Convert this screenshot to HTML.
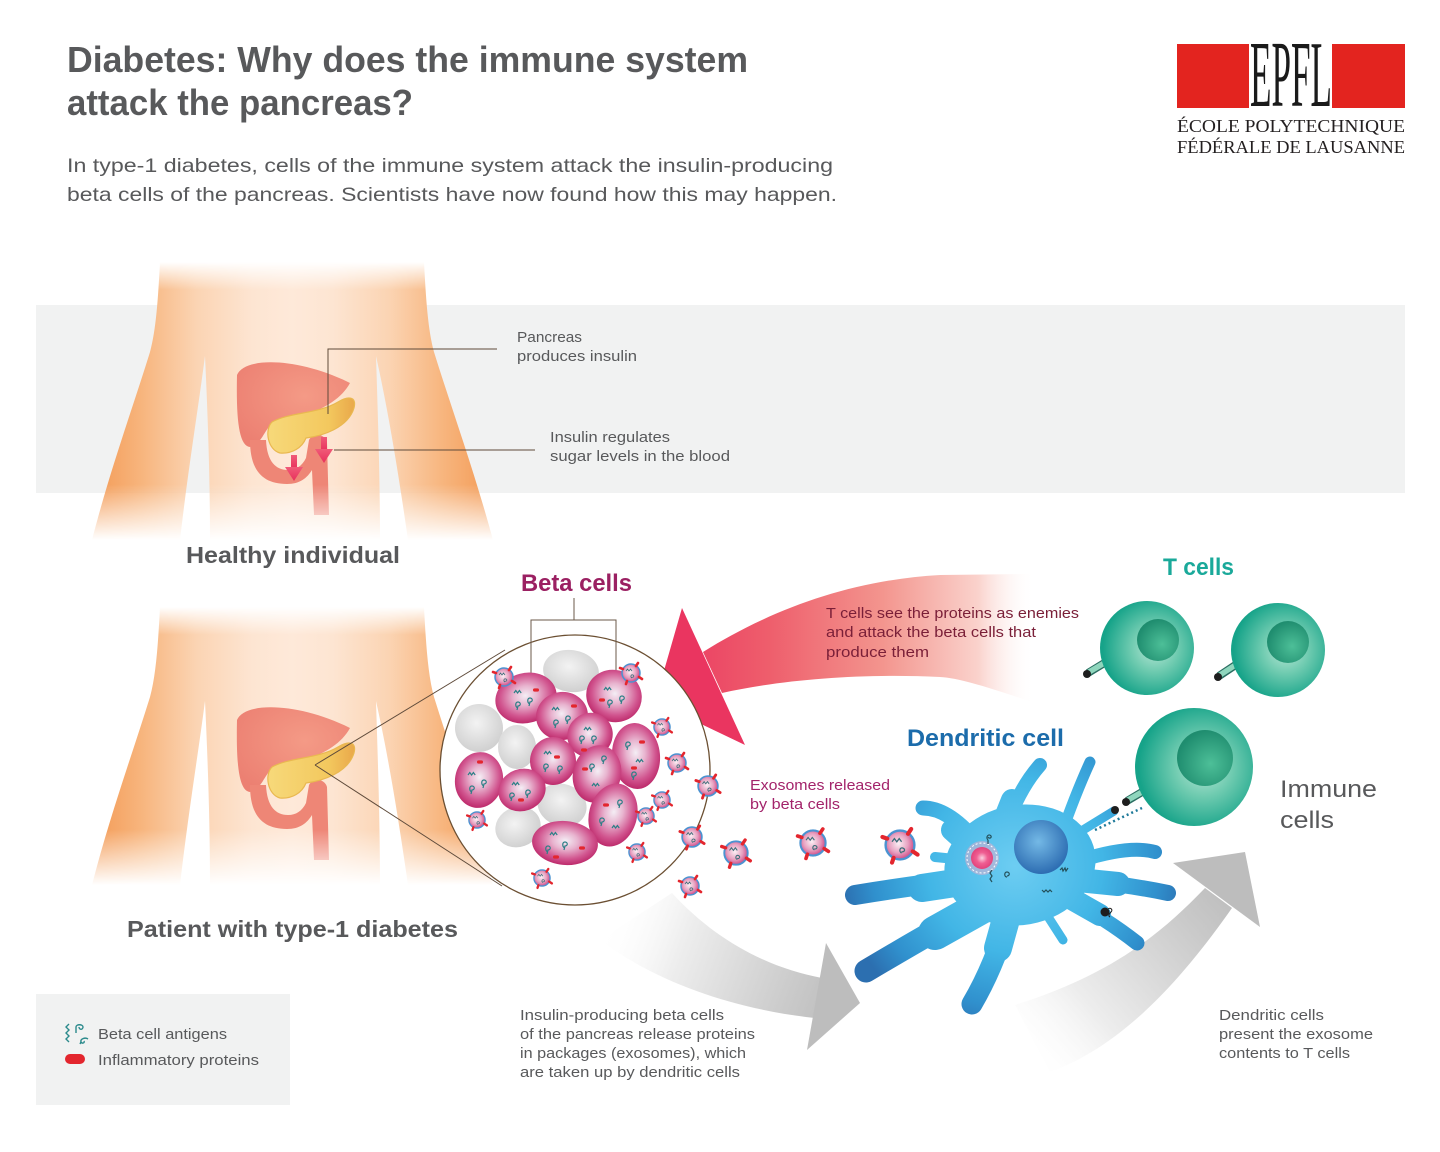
<!DOCTYPE html>
<html>
<head>
<meta charset="utf-8">
<style>
html,body{margin:0;padding:0;background:#fff;}
svg{display:block;}
</style>
</head>
<body>
<svg width="1440" height="1152" viewBox="0 0 1440 1152" xmlns="http://www.w3.org/2000/svg" xmlns:xlink="http://www.w3.org/1999/xlink" font-family="'Liberation Sans', sans-serif">
<defs>
  <linearGradient id="gSkin" gradientUnits="userSpaceOnUse" x1="92" y1="0" x2="493" y2="0">
    <stop offset="0" stop-color="#f39a55"/>
    <stop offset="0.12" stop-color="#f7b47c"/>
    <stop offset="0.26" stop-color="#fbd4b3"/>
    <stop offset="0.4" stop-color="#fde5d2"/>
    <stop offset="0.5" stop-color="#fee9d9"/>
    <stop offset="0.6" stop-color="#fde5d2"/>
    <stop offset="0.74" stop-color="#fbd4b3"/>
    <stop offset="0.88" stop-color="#f7b47c"/>
    <stop offset="1" stop-color="#f39a55"/>
  </linearGradient>
  <linearGradient id="gFade" gradientUnits="userSpaceOnUse" x1="0" y1="262" x2="0" y2="540">
    <stop offset="0" stop-color="#000"/>
    <stop offset="0.1" stop-color="#fff"/>
    <stop offset="0.8" stop-color="#fff"/>
    <stop offset="1" stop-color="#000"/>
  </linearGradient>
  <mask id="mBody" maskUnits="userSpaceOnUse" x="0" y="200" width="620" height="400">
    <rect x="0" y="200" width="620" height="400" fill="url(#gFade)"/>
  </mask>
  <radialGradient id="gStom" cx="0.6" cy="0.4" r="0.7">
    <stop offset="0" stop-color="#f49a86"/>
    <stop offset="1" stop-color="#ec8072"/>
  </radialGradient>
  <linearGradient id="gPanc" x1="0" y1="0" x2="1" y2="0">
    <stop offset="0" stop-color="#f7d97a"/>
    <stop offset="0.7" stop-color="#f3c85e"/>
    <stop offset="1" stop-color="#e9a84a"/>
  </linearGradient>
  <linearGradient id="gRedArrow" x1="0" y1="0" x2="0" y2="1">
    <stop offset="0" stop-color="#f05a78"/>
    <stop offset="1" stop-color="#e8315c"/>
  </linearGradient>
  <linearGradient id="gAttack" gradientUnits="userSpaceOnUse" x1="655" y1="0" x2="1035" y2="0">
    <stop offset="0" stop-color="#ea3560"/>
    <stop offset="0.3" stop-color="#ee5e6c"/>
    <stop offset="0.6" stop-color="#f3958e"/>
    <stop offset="0.85" stop-color="#fad2cc"/>
    <stop offset="1" stop-color="#ffffff" stop-opacity="0"/>
  </linearGradient>
  <linearGradient id="gGray1" gradientUnits="userSpaceOnUse" x1="610" y1="905" x2="860" y2="1000">
    <stop offset="0" stop-color="#ffffff" stop-opacity="0"/>
    <stop offset="0.3" stop-color="#eeeeee"/>
    <stop offset="0.75" stop-color="#cacaca"/>
    <stop offset="1" stop-color="#b8b8b8"/>
  </linearGradient>
  <linearGradient id="gGray2" gradientUnits="userSpaceOnUse" x1="1025" y1="1065" x2="1245" y2="875">
    <stop offset="0" stop-color="#ffffff" stop-opacity="0"/>
    <stop offset="0.3" stop-color="#ededed"/>
    <stop offset="0.75" stop-color="#c9c9c9"/>
    <stop offset="1" stop-color="#b8b8b8"/>
  </linearGradient>
  <radialGradient id="gBeta" cx="0.5" cy="0.45" r="0.55">
    <stop offset="0" stop-color="#f4eef5"/>
    <stop offset="0.35" stop-color="#e8b4cf"/>
    <stop offset="0.75" stop-color="#d1558f"/>
    <stop offset="1" stop-color="#bd2a6b"/>
  </radialGradient>
  <radialGradient id="gGrayCell" cx="0.45" cy="0.4" r="0.6">
    <stop offset="0" stop-color="#f3f3f3"/>
    <stop offset="1" stop-color="#d0d0d0"/>
  </radialGradient>
  <radialGradient id="gExo" cx="0.45" cy="0.45" r="0.55">
    <stop offset="0" stop-color="#fbf0f5"/>
    <stop offset="0.6" stop-color="#e7a0c0"/>
    <stop offset="1" stop-color="#cf4c88"/>
  </radialGradient>
  <radialGradient id="gT" cx="0.58" cy="0.5" r="0.55">
    <stop offset="0" stop-color="#b9e7d6"/>
    <stop offset="0.45" stop-color="#6fcbb0"/>
    <stop offset="1" stop-color="#16a389"/>
  </radialGradient>
  <radialGradient id="gNuc" cx="0.6" cy="0.6" r="0.6">
    <stop offset="0" stop-color="#4dbf98"/>
    <stop offset="1" stop-color="#1f8d6f"/>
  </radialGradient>
  <radialGradient id="gDC" gradientUnits="userSpaceOnUse" cx="1015" cy="865" r="175">
    <stop offset="0" stop-color="#6dcdf2"/>
    <stop offset="0.5" stop-color="#42b6e6"/>
    <stop offset="0.82" stop-color="#3090cd"/>
    <stop offset="1" stop-color="#2c6fb0"/>
  </radialGradient>
  <radialGradient id="gDCN" cx="0.45" cy="0.4" r="0.6">
    <stop offset="0" stop-color="#74b9e6"/>
    <stop offset="1" stop-color="#2d6db2"/>
  </radialGradient>
  <radialGradient id="gPinkGlow" cx="0.5" cy="0.5" r="0.5">
    <stop offset="0" stop-color="#fbd0e0"/>
    <stop offset="0.5" stop-color="#ef5f92"/>
    <stop offset="1" stop-color="#e2437c"/>
  </radialGradient>

  <g id="torso">
    <g mask="url(#mBody)">
      <path d="M160,262 L424,262 C426,300 428,330 434,352 C452,410 474,470 493,540 L408,540 C398,470 388,410 376,356 C378,420 380,480 380,540 L210,540 C210,480 208,420 205,356 C198,410 188,470 180,540 L92,540 C110,470 132,410 150,352 C156,330 158,300 160,262 Z" fill="url(#gSkin)"/>
      <path d="M237,375 C245,356 300,358 350,383 C342,398 325,408 308,414 L272,424 C264,430 262,444 250,447 C239,446 236,420 237,375 Z" fill="url(#gStom)"/>
      <path d="M250,440 C250,470 262,484 287,484 C300,484 307,478 312,470 L314,515 L329,515 L327,442 C325,434 313,432 309,440 L306,458 C302,466 296,470 288,470 C276,470 267,462 266,440 Z" fill="#ee8676"/>
      <path d="M272,422 C290,412 318,414 338,402 C348,396 357,396 354,408 C348,428 322,436 306,438 C302,448 292,454 280,453 C268,450 264,430 272,422 Z" fill="url(#gPanc)" stroke="#e9b850" stroke-width="1.2"/>
    </g>
  </g>

  <g id="exo">
    <circle r="9" fill="url(#gExo)" stroke="#4b93d1" stroke-width="1.5"/>
    <path d="M-5,-2 l1.5,-2 l1.5,2 l1.5,-2 l1.5,2" fill="none" stroke="#3b6d78" stroke-width="0.8"/>
    <path d="M1,5 c-2,-1 -1,-4 1,-3 c2,1 0,3 -1,2" fill="none" stroke="#3b6d78" stroke-width="0.8"/>
    <g stroke="#e3262e" stroke-width="2.6" stroke-linecap="round">
      <line x1="5" y1="-7" x2="7" y2="-10"/>
      <line x1="8" y1="4" x2="11" y2="6"/>
      <line x1="-4" y1="8" x2="-5" y2="11"/>
      <line x1="-8" y1="-4" x2="-11" y2="-5"/>
    </g>
  </g>
  <path id="wv" d="M0,0 l1.8,-2.5 l1.8,2.5 l1.8,-2.5 l1.8,2.5" fill="none" stroke="#2b7f86" stroke-width="1.2"/>
  <path id="cl" d="M0,0 c-3,-1 -3,-6 0,-6 c3,0 3,4 0,4 l-1,4" fill="none" stroke="#2b7f86" stroke-width="1.2"/>
  <rect id="rd" x="-3" y="-1.6" width="6" height="3.2" rx="1.6" fill="#e3262e"/>
</defs>

<rect width="1440" height="1152" fill="#ffffff"/>

<!-- Title -->
<text x="67" y="72" font-size="36" font-weight="bold" fill="#58595b" textLength="681" lengthAdjust="spacingAndGlyphs">Diabetes: Why does the immune system</text>
<text x="67" y="115" font-size="36" font-weight="bold" fill="#58595b" textLength="346" lengthAdjust="spacingAndGlyphs">attack the pancreas?</text>
<text x="67" y="172" font-size="19.5" fill="#58595b" textLength="766" lengthAdjust="spacingAndGlyphs">In type-1 diabetes, cells of the immune system attack the insulin-producing</text>
<text x="67" y="201" font-size="19.5" fill="#58595b" textLength="770" lengthAdjust="spacingAndGlyphs">beta cells of the pancreas. Scientists have now found how this may happen.</text>

<!-- EPFL logo -->
<rect x="1177" y="44" width="72" height="64" fill="#e3241f"/>
<rect x="1332" y="44" width="73" height="64" fill="#e3241f"/>
<text x="1250" y="106" font-family="'Liberation Serif', serif" font-size="94" fill="#1a1a1a" textLength="82" lengthAdjust="spacingAndGlyphs">EPFL</text>
<text x="1177" y="132" font-family="'Liberation Serif', serif" font-size="18" fill="#231f20" textLength="228" lengthAdjust="spacingAndGlyphs">ÉCOLE POLYTECHNIQUE</text>
<text x="1177" y="153" font-family="'Liberation Serif', serif" font-size="18" fill="#231f20" textLength="228" lengthAdjust="spacingAndGlyphs">FÉDÉRALE DE LAUSANNE</text>

<!-- Gray band -->
<rect x="36" y="305" width="1369" height="188" fill="#f1f2f2"/>

<!-- Healthy body -->
<use xlink:href="#torso" href="#torso"/>
<g fill="url(#gRedArrow)">
  <rect x="291" y="455" width="6" height="14"/>
  <polygon points="285,467 303,467 294,481"/>
  <rect x="321" y="437" width="6" height="14"/>
  <polygon points="315,449 333,449 324,463"/>
</g>
<g fill="none" stroke="#5e4a3a" stroke-width="1">
  <polyline points="328,414 328,349 497,349"/>
  <line x1="334" y1="450" x2="535" y2="450"/>
</g>
<text x="517" y="342" font-size="15" fill="#58595b" textLength="65" lengthAdjust="spacingAndGlyphs">Pancreas</text>
<text x="517" y="361" font-size="15" fill="#58595b" textLength="120" lengthAdjust="spacingAndGlyphs">produces insulin</text>
<text x="550" y="442" font-size="15" fill="#58595b" textLength="120" lengthAdjust="spacingAndGlyphs">Insulin regulates</text>
<text x="550" y="461" font-size="15" fill="#58595b" textLength="180" lengthAdjust="spacingAndGlyphs">sugar levels in the blood</text>
<text x="186" y="563" font-size="23" font-weight="bold" fill="#58595b" textLength="214" lengthAdjust="spacingAndGlyphs">Healthy individual</text>

<!-- Patient body -->
<use xlink:href="#torso" href="#torso" transform="translate(0,345)"/>

<!-- gray arrows -->
<path d="M672,893 C715,940 768,968 822,978 L815,1018 C740,1010 660,985 600,940 Z" fill="url(#gGray1)"/>
<polygon points="826,943 860,1003 807,1050" fill="#bdbdbd"/>
<path d="M1205,888 C1160,935 1110,975 1015,1005 L1050,1072 C1125,1045 1185,975 1232,908 Z" fill="url(#gGray2)"/>
<polygon points="1173,863 1245,852 1260,927" fill="#bdbdbd"/>

<!-- Attack arrow -->
<path d="M703,652 C770,610 850,580 940,575 L1032,574 L1032,702 C990,688 960,678 940,677 C860,673 780,680 722,693 Z" fill="url(#gAttack)"/>
<polygon points="682,608 655,702 745,745" fill="#ea3560"/>
<text x="826" y="618" font-size="15" fill="#7a1f38" textLength="253" lengthAdjust="spacingAndGlyphs">T cells see the proteins as enemies</text>
<text x="826" y="637" font-size="15" fill="#7a1f38" textLength="210" lengthAdjust="spacingAndGlyphs">and attack the beta cells that</text>
<text x="826" y="657" font-size="15" fill="#7a1f38" textLength="103" lengthAdjust="spacingAndGlyphs">produce them</text>

<!-- zoom lines -->
<g stroke="#5e4a3a" stroke-width="1" fill="none">
  <line x1="315" y1="765" x2="505" y2="650"/>
  <line x1="315" y1="765" x2="502" y2="886"/>
</g>
<circle cx="575" cy="770" r="135" fill="#ffffff" stroke="#6b4f32" stroke-width="1.3"/>

<!-- bracket -->
<text x="521" y="591" font-size="24" font-weight="bold" fill="#9b2062" textLength="111" lengthAdjust="spacingAndGlyphs">Beta cells</text>
<g stroke="#6b5a4a" stroke-width="1" fill="none">
  <line x1="574" y1="598" x2="574" y2="620"/>
  <polyline points="531,677 531,620 616,620 616,670"/>
</g>

<!-- gray cells -->
<g fill="url(#gGrayCell)">
  <ellipse cx="571" cy="671" rx="28" ry="21" transform="rotate(8 571 671)"/>
  <ellipse cx="479" cy="728" rx="24" ry="24"/>
  <ellipse cx="517" cy="747" rx="19" ry="22"/>
  <ellipse cx="562" cy="805" rx="25" ry="21" transform="rotate(20 562 805)"/>
  <ellipse cx="518" cy="827" rx="23" ry="20" transform="rotate(-20 518 827)"/>
</g>
<!-- pink beta cells -->
<g fill="url(#gBeta)">
  <ellipse cx="526" cy="698" rx="31" ry="25" transform="rotate(-15 526 698)"/>
  <ellipse cx="614" cy="696" rx="28" ry="26" transform="rotate(20 614 696)"/>
  <ellipse cx="562" cy="716" rx="26" ry="24" transform="rotate(-10 562 716)"/>
  <ellipse cx="590" cy="735" rx="23" ry="22" transform="rotate(-30 590 735)"/>
  <ellipse cx="636" cy="756" rx="24" ry="33" transform="rotate(-5 636 756)"/>
  <ellipse cx="553" cy="761" rx="23" ry="24"/>
  <ellipse cx="479" cy="780" rx="24" ry="28" transform="rotate(10 479 780)"/>
  <ellipse cx="597" cy="774" rx="24" ry="29" transform="rotate(15 597 774)"/>
  <ellipse cx="522" cy="790" rx="24" ry="21" transform="rotate(-20 522 790)"/>
  <ellipse cx="613" cy="815" rx="24" ry="32" transform="rotate(15 613 815)"/>
  <ellipse cx="565" cy="843" rx="33" ry="22" transform="rotate(5 565 843)"/>
</g>
<!-- decorations -->
<g>
  <use href="#wv" xlink:href="#wv" x="514" y="693"/><use href="#cl" xlink:href="#cl" x="518" y="708"/><use href="#cl" xlink:href="#cl" x="530" y="704"/><use href="#rd" xlink:href="#rd" x="536" y="690"/>
  <use href="#wv" xlink:href="#wv" x="604" y="690"/><use href="#cl" xlink:href="#cl" x="610" y="706"/><use href="#cl" xlink:href="#cl" x="622" y="702"/><use href="#rd" xlink:href="#rd" x="602" y="700"/>
  <use href="#wv" xlink:href="#wv" x="552" y="710"/><use href="#cl" xlink:href="#cl" x="556" y="726"/><use href="#cl" xlink:href="#cl" x="568" y="722"/><use href="#rd" xlink:href="#rd" x="574" y="706"/>
  <use href="#wv" xlink:href="#wv" x="584" y="730"/><use href="#cl" xlink:href="#cl" x="582" y="742"/><use href="#cl" xlink:href="#cl" x="594" y="742"/><use href="#rd" xlink:href="#rd" x="584" y="750"/>
  <use href="#wv" xlink:href="#wv" x="636" y="762"/><use href="#cl" xlink:href="#cl" x="628" y="748"/><use href="#cl" xlink:href="#cl" x="634" y="778"/><use href="#rd" xlink:href="#rd" x="642" y="742"/><use href="#rd" xlink:href="#rd" x="634" y="768"/>
  <use href="#wv" xlink:href="#wv" x="544" y="754"/><use href="#cl" xlink:href="#cl" x="546" y="770"/><use href="#cl" xlink:href="#cl" x="560" y="772"/><use href="#rd" xlink:href="#rd" x="557" y="757"/>
  <use href="#wv" xlink:href="#wv" x="468" y="775"/><use href="#cl" xlink:href="#cl" x="472" y="792"/><use href="#cl" xlink:href="#cl" x="484" y="786"/><use href="#rd" xlink:href="#rd" x="480" y="762"/>
  <use href="#wv" xlink:href="#wv" x="592" y="786"/><use href="#cl" xlink:href="#cl" x="592" y="770"/><use href="#cl" xlink:href="#cl" x="604" y="762"/><use href="#rd" xlink:href="#rd" x="585" y="769"/>
  <use href="#wv" xlink:href="#wv" x="512" y="785"/><use href="#cl" xlink:href="#cl" x="512" y="799"/><use href="#cl" xlink:href="#cl" x="528" y="796"/><use href="#rd" xlink:href="#rd" x="521" y="800"/>
  <use href="#wv" xlink:href="#wv" x="612" y="828"/><use href="#cl" xlink:href="#cl" x="602" y="824"/><use href="#cl" xlink:href="#cl" x="620" y="806"/><use href="#rd" xlink:href="#rd" x="606" y="805"/>
  <use href="#wv" xlink:href="#wv" x="550" y="835"/><use href="#cl" xlink:href="#cl" x="548" y="852"/><use href="#cl" xlink:href="#cl" x="565" y="848"/><use href="#rd" xlink:href="#rd" x="556" y="857"/><use href="#rd" xlink:href="#rd" x="582" y="848"/>
</g>

<!-- exosomes -->
<use href="#exo" xlink:href="#exo" transform="translate(504,677)"/>
<use href="#exo" xlink:href="#exo" transform="translate(631,673)"/>
<use href="#exo" xlink:href="#exo" transform="translate(662,727) scale(0.9)"/>
<use href="#exo" xlink:href="#exo" transform="translate(677,763)"/>
<use href="#exo" xlink:href="#exo" transform="translate(708,786) scale(1.1)"/>
<use href="#exo" xlink:href="#exo" transform="translate(662,800) scale(0.9)"/>
<use href="#exo" xlink:href="#exo" transform="translate(646,816) scale(0.9)"/>
<use href="#exo" xlink:href="#exo" transform="translate(477,820) scale(0.9)"/>
<use href="#exo" xlink:href="#exo" transform="translate(692,837) scale(1.1)"/>
<use href="#exo" xlink:href="#exo" transform="translate(637,852) scale(0.9)"/>
<use href="#exo" xlink:href="#exo" transform="translate(542,878) scale(0.9)"/>
<use href="#exo" xlink:href="#exo" transform="translate(690,886)"/>
<use href="#exo" xlink:href="#exo" transform="translate(736,853) scale(1.3)"/>
<use href="#exo" xlink:href="#exo" transform="translate(813,843) scale(1.4)"/>
<use href="#exo" xlink:href="#exo" transform="translate(900,845) scale(1.6)"/>

<text x="750" y="790" font-size="15" fill="#a3246b" textLength="140" lengthAdjust="spacingAndGlyphs">Exosomes released</text>
<text x="750" y="809" font-size="15" fill="#a3246b" textLength="90" lengthAdjust="spacingAndGlyphs">by beta cells</text>

<!-- Dendritic cell -->
<text x="907" y="746" font-size="24" font-weight="bold" fill="#1c6cab" textLength="157" lengthAdjust="spacingAndGlyphs">Dendritic cell</text>
<g fill="none" stroke="url(#gDC)" stroke-linecap="round">
  <path d="M1005,830 Q1018,790 1040,765" stroke-width="14"/>
  <path d="M1000,830 L1012,800" stroke-width="22"/>
  <path d="M1060,838 Q1075,795 1090,762" stroke-width="11"/>
  <path d="M975,840 Q948,808 923,808" stroke-width="15"/>
  <path d="M972,848 L952,830" stroke-width="22"/>
  <path d="M965,860 L935,857" stroke-width="10"/>
  <path d="M980,878 Q915,885 855,895" stroke-width="20"/>
  <path d="M975,880 L922,888" stroke-width="28"/>
  <path d="M990,900 Q935,930 866,971" stroke-width="23"/>
  <path d="M985,905 L935,933" stroke-width="34"/>
  <path d="M1010,912 Q995,965 972,1004" stroke-width="21"/>
  <path d="M1008,912 L998,948" stroke-width="28"/>
  <path d="M1045,912 L1063,940" stroke-width="9"/>
  <path d="M1070,900 Q1105,918 1137,943" stroke-width="15"/>
  <path d="M1070,898 L1100,915" stroke-width="22"/>
  <path d="M1080,880 Q1130,885 1168,893" stroke-width="16"/>
  <path d="M1078,880 L1118,884" stroke-width="24"/>
  <path d="M1082,860 Q1130,845 1155,852" stroke-width="14"/>
  <path d="M1070,838 L1114,811" stroke-width="9"/>
  <path d="M1075,893 L1104,911" stroke-width="9"/>
</g>
<ellipse cx="1020" cy="865" rx="76" ry="60" transform="rotate(-10 1020 865)" fill="url(#gDC)"/>
<circle cx="1041" cy="847" r="27" fill="url(#gDCN)"/>
<circle cx="982" cy="858" r="17" fill="#f4a8c6" opacity="0.45"/>
<circle cx="982" cy="858" r="11" fill="url(#gPinkGlow)"/>
<circle cx="982" cy="858" r="15" fill="none" stroke="#ffffff" stroke-width="1" stroke-dasharray="2 2"/>
<g fill="none" stroke="#24505a" stroke-width="1.2">
  <path d="M988,840 c-3,-3 1,-7 3,-4 c1,2 -2,3 -3,1 M988,840 l0,4"/>
  <path d="M992,870 l-2,3 l2,3 l-2,3 l2,3"/>
  <path d="M1007,877 c-3,0 -3,-5 0,-5 c3,0 3,4 0,4"/>
  <path d="M1060,870 l2,-2 l1,3 l2,-3 l1,3 l2,-3"/>
  <path d="M1042,890 l2,2 l2,-2 l2,2 l2,-2 l2,2"/>
</g>
<circle cx="1115" cy="810" r="4" fill="#1e1e1e"/>
<circle cx="1105" cy="912" r="4.5" fill="#1e1e1e"/>
<path d="M1108,909 c3,-2 5,1 3,3 c-2,2 -3,4 -1,5" fill="none" stroke="#1e1e1e" stroke-width="1"/>
<line x1="1095" y1="830" x2="1142" y2="808" stroke="#1f7a9a" stroke-width="2.5" stroke-dasharray="2 3"/>

<!-- T cells -->
<text x="1163" y="575" font-size="24" font-weight="bold" fill="#1aa99a" textLength="71" lengthAdjust="spacingAndGlyphs">T cells</text>
<g stroke-linecap="butt">
  <line x1="1106" y1="662" x2="1088" y2="673" stroke="#2b6e62" stroke-width="8"/>
  <line x1="1106" y1="662" x2="1089" y2="672" stroke="#8fd6bd" stroke-width="5.5"/>
  <line x1="1237" y1="664" x2="1219" y2="676" stroke="#2b6e62" stroke-width="8"/>
  <line x1="1237" y1="664" x2="1220" y2="675" stroke="#8fd6bd" stroke-width="5.5"/>
  <line x1="1142" y1="792" x2="1127" y2="801" stroke="#2b6e62" stroke-width="8"/>
  <line x1="1142" y1="792" x2="1128" y2="800" stroke="#8fd6bd" stroke-width="5.5"/>
</g>
<circle cx="1087" cy="674" r="4" fill="#1e1e1e"/>
<circle cx="1218" cy="677" r="4" fill="#1e1e1e"/>
<circle cx="1126" cy="802" r="4" fill="#1e1e1e"/>
<circle cx="1147" cy="648" r="47" fill="url(#gT)"/>
<circle cx="1158" cy="640" r="21" fill="url(#gNuc)"/>
<circle cx="1278" cy="650" r="47" fill="url(#gT)"/>
<circle cx="1288" cy="642" r="21" fill="url(#gNuc)"/>
<circle cx="1194" cy="767" r="59" fill="url(#gT)"/>
<circle cx="1205" cy="758" r="28" fill="url(#gNuc)"/>

<text x="1280" y="797" font-size="24" fill="#58595b" textLength="97" lengthAdjust="spacingAndGlyphs">Immune</text>
<text x="1280" y="828" font-size="24" fill="#58595b" textLength="54" lengthAdjust="spacingAndGlyphs">cells</text>

<!-- Patient label -->
<text x="127" y="937" font-size="23" font-weight="bold" fill="#58595b" textLength="331" lengthAdjust="spacingAndGlyphs">Patient with type-1 diabetes</text>

<!-- bottom texts -->
<text x="520" y="1020" font-size="15" fill="#58595b" textLength="204" lengthAdjust="spacingAndGlyphs">Insulin-producing beta cells</text>
<text x="520" y="1039" font-size="15" fill="#58595b" textLength="235" lengthAdjust="spacingAndGlyphs">of the pancreas release proteins</text>
<text x="520" y="1058" font-size="15" fill="#58595b" textLength="226" lengthAdjust="spacingAndGlyphs">in packages (exosomes), which</text>
<text x="520" y="1077" font-size="15" fill="#58595b" textLength="220" lengthAdjust="spacingAndGlyphs">are taken up by dendritic cells</text>

<text x="1219" y="1020" font-size="15" fill="#58595b" textLength="105" lengthAdjust="spacingAndGlyphs">Dendritic cells</text>
<text x="1219" y="1039" font-size="15" fill="#58595b" textLength="154" lengthAdjust="spacingAndGlyphs">present the exosome</text>
<text x="1219" y="1058" font-size="15" fill="#58595b" textLength="131" lengthAdjust="spacingAndGlyphs">contents to T cells</text>

<!-- Legend -->
<rect x="36" y="994" width="254" height="111" fill="#f1f2f2"/>
<g fill="none" stroke="#2b8a8c" stroke-width="1.4">
  <path d="M69,1024 l-3,3 l3,3 l-3,3 l3,3 l-3,3 l3,3"/>
  <path d="M76,1033 l0,-6 c0,-3 7,-3 7,0 c0,3 -4,3 -4,0"/>
  <path d="M88,1039 c-3,-2 -8,0 -7,3 c1,2 4,1 3,-1 M81,1042 l-1,2"/>
</g>
<rect x="65" y="1054" width="20" height="10" rx="5" fill="#e3262e"/>
<text x="98" y="1039" font-size="15" fill="#58595b" textLength="129" lengthAdjust="spacingAndGlyphs">Beta cell antigens</text>
<text x="98" y="1065" font-size="15" fill="#58595b" textLength="161" lengthAdjust="spacingAndGlyphs">Inflammatory proteins</text>
</svg>
</body>
</html>
